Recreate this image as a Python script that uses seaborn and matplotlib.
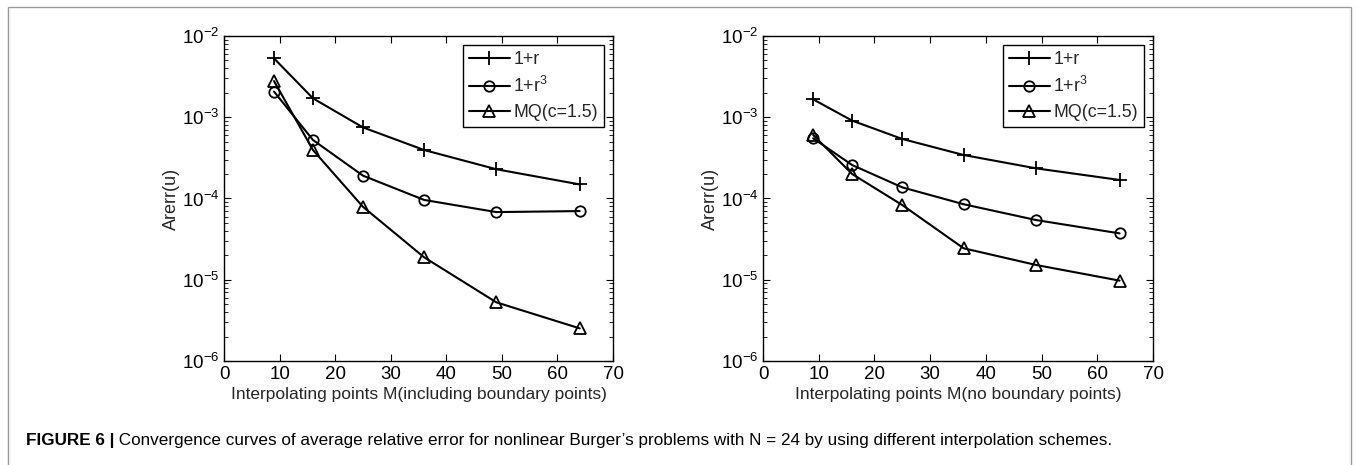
import numpy as np
import pandas as pd
import matplotlib
matplotlib.use("Agg")
import matplotlib.pyplot as plt
from matplotlib.patches import Rectangle
from matplotlib.ticker import LogLocator, NullFormatter, MultipleLocator
import seaborn as sns

# ---- data ----
M = [9, 16, 25, 36, 49, 64]
series_names = ["1+r", "1+r$^3$", "MQ(c=1.5)"]

left_r = [5.3e-3, 1.71e-3, 7.5e-4, 3.95e-4, 2.29e-4, 1.49e-4]
left_r3 = [2.07e-3, 5.25e-4, 1.91e-4, 9.6e-5, 6.8e-5, 7.0e-5]
left_mq = [2.79e-3, 3.95e-4, 7.9e-5, 1.89e-5, 5.27e-6, 2.52e-6]

right_r = [1.66e-3, 9.08e-4, 5.4e-4, 3.43e-4, 2.35e-4, 1.69e-4]
right_r3 = [5.5e-4, 2.58e-4, 1.37e-4, 8.5e-5, 5.43e-5, 3.72e-5]
right_mq = [6.05e-4, 2.0e-4, 8.3e-5, 2.44e-5, 1.52e-5, 9.75e-6]

xlabels = ["Interpolating points M(including boundary points)",
           "Interpolating points M(no boundary points)"]
ylabel = "Arerr(u)"
caption_bold = "FIGURE 6 |"
caption_rest = (" Convergence curves of average relative error for nonlinear Burger\u2019s "
                "problems with N = 24 by using different interpolation schemes.")

sns.set_theme(style="white")
plt.rcParams['font.family'] = ['Liberation Sans', 'DejaVu Sans']
plt.rcParams['mathtext.fontset'] = 'custom'
plt.rcParams['mathtext.rm'] = 'Liberation Sans'
plt.rcParams['mathtext.it'] = 'Liberation Sans'
plt.rcParams['axes.unicode_minus'] = False

fig = plt.figure(figsize=(13.56, 4.65), dpi=100)
fig.patch.set_facecolor("white")

# outer frame
fig.patches.append(Rectangle((8 / 1356, -0.05), (1351 - 8) / 1356, 1.05 - 7 / 465,
                             transform=fig.transFigure, fill=False,
                             edgecolor="#9a9a9a", linewidth=1.0))

markers = ["+", "o", "^"]
msizes = [10, 7.5, 8.5]
panels = [
    ([0.1652, 0.2237, 0.2869, 0.6989], [left_r, left_r3, left_mq], xlabels[0]),
    ([0.5627, 0.2237, 0.2876, 0.6989], [right_r, right_r3, right_mq], xlabels[1]),
]

for rect, data, xl in panels:
    ax = fig.add_axes(rect)
    for name, vals, mk, ms in zip(series_names, data, markers, msizes):
        df = pd.DataFrame({"M": M, "err": vals})
        sns.lineplot(data=df, x="M", y="err", ax=ax, color="black", linewidth=1.5,
                     marker=mk, markersize=ms, markerfacecolor="none",
                     markeredgecolor="black", markeredgewidth=1.3, label=name)
    ax.set_yscale("log")
    ax.set_xlim(0, 70)
    ax.set_ylim(1e-6, 1e-2)
    ax.xaxis.set_major_locator(MultipleLocator(10))
    ax.yaxis.set_major_locator(LogLocator(base=10, numticks=10))
    ax.yaxis.set_minor_locator(LogLocator(base=10, subs=np.arange(2, 10), numticks=10))
    ax.yaxis.set_minor_formatter(NullFormatter())
    ax.tick_params(which="both", direction="in", top=True, right=True,
                   bottom=True, left=True, colors="black", labelsize=13.5)
    ax.tick_params(which="major", length=5, width=0.8)
    ax.tick_params(which="minor", length=3, width=0.6)
    for s in ax.spines.values():
        s.set_color("black")
        s.set_linewidth(1.0)
    ax.set_xlabel(xl, fontsize=12.5, labelpad=3)
    ax.set_ylabel(ylabel, fontsize=13, labelpad=1)
    leg = ax.legend(loc="upper right", fontsize=12.8, frameon=True, fancybox=False,
                    edgecolor="black", framealpha=1, handlelength=2.3,
                    handletextpad=0.2, borderpad=0.35, labelspacing=0.45,
                    borderaxespad=0.5)
    leg.get_frame().set_linewidth(1.0)
    ax.grid(False)
    ax.set_facecolor("white")

t1 = fig.text(26 / 1356, 1 - 440 / 465, caption_bold, fontsize=12.3, fontweight="bold",
              va="center", ha="left", color="black")
fig.canvas.draw()
bb = t1.get_window_extent()
fig.text((bb.x1) / 1356, 1 - 440 / 465, caption_rest, fontsize=12.3,
         va="center", ha="left", color="black")

fig.savefig("out.png", dpi=100, facecolor="white")
